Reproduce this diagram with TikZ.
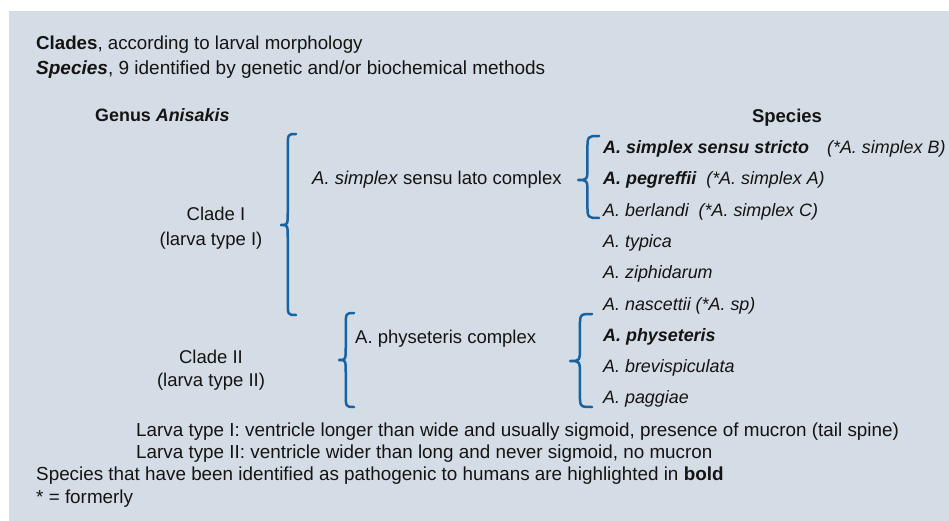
\documentclass[tikz,border=0pt]{standalone}
\usepackage{fontspec}
\setmainfont{Liberation Sans}
\definecolor{bgc}{RGB}{212,220,229}
\definecolor{bracec}{RGB}{24,98,160}
\definecolor{txt}{RGB}{20,20,20}
\newcommand\mybrace[5]{%
 \pgfmathsetmacro\bxm{#1+0.45*(#2-#1)}%
 \pgfmathsetmacro\bxr{min(14,0.25*(#5-#3))}%
 \draw[bracestyle] (#2,#3) .. controls (\bxm,#3) .. (\bxm,{#3+\bxr}) -- (\bxm,{#4-\bxr}) .. controls (\bxm,#4) .. (#1,#4) .. controls (\bxm,#4) .. (\bxm,{#4+\bxr}) -- (\bxm,{#5-\bxr}) .. controls (\bxm,#5) .. (#2,#5);}
\begin{document}
\begin{tikzpicture}[x=1pt,y=-1pt,
  lt/.style={anchor=base west,inner sep=0pt,text=txt,font=\fontsize{18.5}{22}\selectfont},
  ct/.style={anchor=base,inner sep=0pt,text=txt,font=\fontsize{18.5}{22}\selectfont},
  sp/.style={anchor=base west,inner sep=0pt,text=txt,font=\fontsize{17.9}{21}\selectfont\itshape},
  ft/.style={anchor=base west,inner sep=0pt,text=txt,font=\fontsize{18.85}{22}\selectfont},
  bracestyle/.style={draw=bracec,line width=2.5pt,line cap=round,line join=round}]
\useasboundingbox (0,0) rectangle (949,521);
\fill[bgc] (9,11) rectangle (949,521);
% header
\node[lt,font=\fontsize{18.7}{22}\selectfont] (h1) at (36,50) {\textbf{Clades}, according to larval morphology};
\node[lt,font=\fontsize{19}{22}\selectfont] (h2) at (36,75) {\textbf{\textit{Species}}, 9 identified by genetic and/or biochemical methods};
\node[lt,font=\fontsize{17.9}{22}\selectfont] (genus) at (95,122) {\textbf{Genus \textit{Anisakis}}};
\node[ct] (spechead) at (787,123) {\textbf{Species}};
% clades
\node[ct] (c1a) at (216,221) {Clade I};
\node[ct] (c1b) at (211,245) {(larva type I)};
\node[ct] (c2a) at (211,363) {Clade II};
\node[ct] (c2b) at (211,386) {(larva type II)};
% complexes
\node[lt] (cx1) at (312,185) {\textit{A. simplex} sensu lato complex};
\node[lt] (cx2) at (355,343) {A. physeteris complex};
% species
\node[sp] (s1) at (603,153.5) {\textbf{A. simplex sensu stricto}\hspace{18pt}(*A. simplex B)};
\node[sp] (s2) at (603,184.8) {\textbf{A. pegreffii}\ \ (*A. simplex A)};
\node[sp] (s3) at (603,216.1) {A. berlandi\ \ (*A. simplex C)};
\node[sp] (s4) at (603,247.4) {A. typica};
\node[sp] (s5) at (603,278.7) {A. ziphidarum};
\node[sp] (s6) at (603,310) {A. nascettii (*A. sp)};
\node[sp] (s7) at (603,341.3) {\textbf{A. physeteris}};
\node[sp] (s8) at (603,372.6) {A. brevispiculata};
\node[sp] (s9) at (603,403.9) {A. paggiae};
% braces
\mybrace{281}{296}{134}{225}{315}
\mybrace{578}{599}{136}{180}{218}
\mybrace{339}{354}{313}{360}{407}
\mybrace{570}{592}{314}{361}{407}
% footer
\node[ft] (f1) at (136,436) {Larva type I: ventricle longer than wide and usually sigmoid, presence of mucron (tail spine)};
\node[ft] (f2) at (136,458) {Larva type II: ventricle wider than long and never sigmoid, no mucron};
\node[ft] (f3) at (36,480) {Species that have been identified as pathogenic to humans are highlighted in \textbf{bold}};
\node[ft] (f4) at (36,503) {* = formerly};
\end{tikzpicture}
\end{document}
